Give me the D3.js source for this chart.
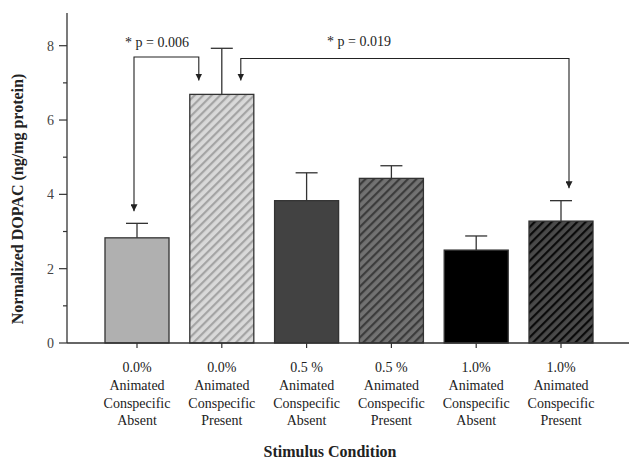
<!DOCTYPE html>
<html><head><meta charset="utf-8">
<script src="https://cdn.jsdelivr.net/npm/d3@7"></script>
<style>body{margin:0;background:#fff}svg{display:block}text{font-family:"Liberation Serif","Times New Roman",serif}</style>
</head><body><svg id="c" width="630" height="462"></svg>
<script>
const categories = ["0.0% Absent","0.0% Present","0.5% Absent","0.5% Present","1.0% Absent","1.0% Present"];
const labelLines = [
  ["0.0%","Animated","Conspecific","Absent"],
  ["0.0%","Animated","Conspecific","Present"],
  ["0.5 %","Animated","Conspecific","Absent"],
  ["0.5 %","Animated","Conspecific","Present"],
  ["1.0%","Animated","Conspecific","Absent"],
  ["1.0%","Animated","Conspecific","Present"]
];
const means = [2.83, 6.69, 3.83, 4.43, 2.50, 3.28];
const errTops = [3.22, 7.93, 4.58, 4.77, 2.88, 3.83];
const majorTicks = [0, 2, 4, 6, 8];
const minorTicks = [1, 3, 5, 7];
const comparisons = [
  {from: 0, to: 1, label: "* p = 0.006"},
  {from: 1, to: 5, label: "* p = 0.019"}
];

const styles = [
  {fill:"#b0b0b0"},
  {fill:"#d9d9d9", stripe:"#a4a4a4"},
  {fill:"#424242"},
  {fill:"#727272", stripe:"#3c3c3c"},
  {fill:"#000000"},
  {fill:"#4a4a4a", stripe:"#0a0a0a"}
];

const svg = d3.select("#c");
const y = d3.scaleLinear().domain([0, 8.88]).range([343, 13]);
const x = d3.scaleBand().domain(categories).range([94.6, 603.4]).paddingInner(0.245).paddingOuter(0.1225);
const axisX = 67;

const defs = svg.append("defs");
styles.forEach((s, i) => {
  if (!s.stripe) return;
  const p = defs.append("pattern").attr("id", "h" + i).attr("patternUnits", "userSpaceOnUse")
    .attr("width", 6).attr("height", 6).attr("patternTransform", "rotate(45)");
  p.append("rect").attr("width", 6).attr("height", 6).attr("fill", s.fill);
  p.append("rect").attr("x", 0).attr("width", 2.2).attr("height", 6).attr("fill", s.stripe);
});
defs.append("marker").attr("id","arr").attr("viewBox","0 0 10 10").attr("refX",10).attr("refY",5)
  .attr("markerWidth",7).attr("markerHeight",7).attr("markerUnits","userSpaceOnUse").attr("orient","auto-start-reverse")
  .append("path").attr("d","M0,0 L10,5 L0,10 Z").attr("fill","#222");

// bars
svg.selectAll("rect.bar").data(means).join("rect").attr("class","bar")
  .attr("x", (d,i) => x(categories[i]))
  .attr("y", d => y(d))
  .attr("width", x.bandwidth())
  .attr("height", d => y(0) - y(d))
  .attr("fill", (d,i) => styles[i].stripe ? `url(#h${i})` : styles[i].fill)
  .attr("stroke", "#333").attr("stroke-width", 1.3);

// error bars
const cx = i => x(categories[i]) + x.bandwidth()/2;
means.forEach((m, i) => {
  svg.append("line").attr("x1", cx(i)).attr("x2", cx(i)).attr("y1", y(m)).attr("y2", y(errTops[i]))
    .attr("stroke","#333").attr("stroke-width",1.3);
  svg.append("line").attr("x1", cx(i)-11).attr("x2", cx(i)+11).attr("y1", y(errTops[i])).attr("y2", y(errTops[i]))
    .attr("stroke","#333").attr("stroke-width",1.3);
});

// y axis
const gy = svg.append("g").attr("transform", `translate(${axisX},0)`);
gy.append("line").attr("x1",0).attr("x2",0).attr("y1",y(8.88)).attr("y2",y(0)).attr("stroke","#333").attr("stroke-width",1.3);
gy.selectAll("line.maj").data(majorTicks).join("line").attr("class","maj")
  .attr("x1",-8).attr("x2",0).attr("y1",d=>y(d)).attr("y2",d=>y(d)).attr("stroke","#333").attr("stroke-width",1.2);
gy.selectAll("line.min").data(minorTicks).join("line").attr("class","min")
  .attr("x1",-4).attr("x2",0).attr("y1",d=>y(d)).attr("y2",d=>y(d)).attr("stroke","#333").attr("stroke-width",1.2);
gy.selectAll("text").data(majorTicks).join("text")
  .attr("x",-13).attr("y",d=>y(d)).attr("dy","0.35em").attr("text-anchor","end")
  .attr("font-size",14).attr("fill","#444").text(d=>d);

// x axis
svg.append("line").attr("x1",axisX).attr("x2",629).attr("y1",y(0)).attr("y2",y(0)).attr("stroke","#333").attr("stroke-width",1.3);
categories.forEach((c,i) => {
  svg.append("line").attr("x1",cx(i)).attr("x2",cx(i)).attr("y1",y(0)).attr("y2",y(0)+5).attr("stroke","#333").attr("stroke-width",1.2);
  const t = svg.append("text").attr("text-anchor","middle").attr("font-size",14).attr("fill","#222");
  labelLines[i].forEach((l, k) => {
    t.append("tspan").attr("x", cx(i)).attr("y", 372 + k*17.8).text(l);
  });
});

// axis titles
svg.append("text").attr("x",330).attr("y",457).attr("text-anchor","middle").attr("font-size",16)
  .attr("font-weight","bold").attr("fill","#222").text("Stimulus Condition");
svg.append("text").attr("transform","translate(23,199) rotate(-90)").attr("text-anchor","middle")
  .attr("font-size",16).attr("font-weight","bold").attr("fill","#222").text("Normalized DOPAC (ng/mg protein)");

// comparison brackets
const line = d3.line();
const c0 = comparisons[0], c1 = comparisons[1];
svg.append("path").attr("d", line([[cx(c0.from)-3, y(errTops[c0.from])-12],[cx(c0.from)-3, 57],[cx(c0.to)-23, 57],[cx(c0.to)-23, 80.5]]))
  .attr("fill","none").attr("stroke","#222").attr("stroke-width",1.1).attr("marker-start","url(#arr)").attr("marker-end","url(#arr)");
svg.append("text").attr("x",125).attr("y",47).attr("font-size",14).attr("fill","#222").text(c0.label);
svg.append("path").attr("d", line([[cx(c1.from)+19, 80.5],[cx(c1.from)+19, 58.5],[cx(c1.to)+8, 58.5],[cx(c1.to)+8, y(errTops[c1.to])-12.5]]))
  .attr("fill","none").attr("stroke","#222").attr("stroke-width",1.1).attr("marker-start","url(#arr)").attr("marker-end","url(#arr)");
svg.append("text").attr("x",327).attr("y",46).attr("font-size",14).attr("fill","#222").text(c1.label);
</script></body></html>
